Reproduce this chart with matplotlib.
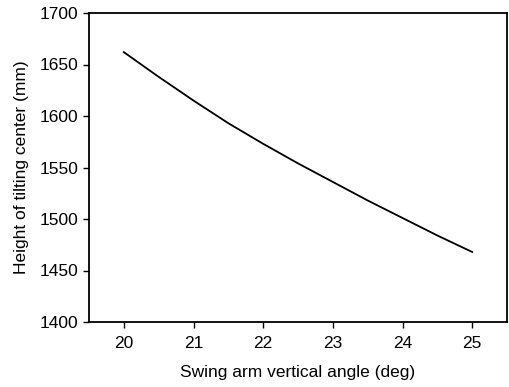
import matplotlib
matplotlib.use('Agg')
import matplotlib.pyplot as plt

angle = [20, 20.5, 21, 21.5, 22, 22.5, 23, 23.5, 24, 24.5, 25]
height = [1662, 1638, 1615, 1593, 1573, 1554, 1536, 1518, 1501, 1484, 1468]

plt.rcParams['font.family'] = 'Liberation Sans'

fig = plt.figure(figsize=(5.10, 3.87), dpi=100)
ax = fig.add_axes([89/510, 1 - 322/387, (507-89)/510, (322-13)/387])
ax.plot(angle, height, color='black', lw=1.3)

ax.set_xlim(19.5, 25.5)
ax.set_ylim(1400, 1700)
ax.set_xticks([20, 21, 22, 23, 24, 25])
ax.set_yticks(range(1400, 1701, 50))
ax.tick_params(direction='out', length=4, width=1, labelsize=12.5, colors='black')
ax.tick_params(axis='x', pad=6)
for s in ax.spines.values():
    s.set_linewidth(1.3)

ax.set_xlabel('Swing arm vertical angle (deg)', fontsize=12.5, labelpad=10)
ax.set_ylabel('Height of tilting center (mm)', fontsize=12.5, labelpad=8)

fig.savefig('out.png', dpi=100)
